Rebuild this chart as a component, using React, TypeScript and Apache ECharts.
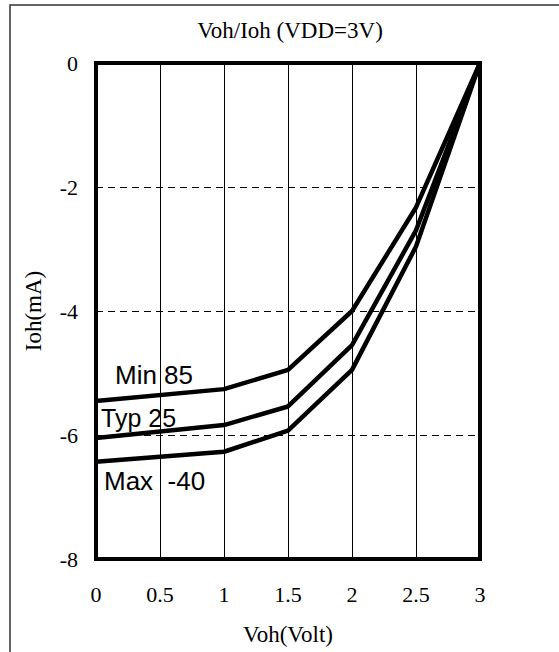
import React, { useEffect, useRef } from "react";
import * as echarts from "echarts";

const voltages = [0, 1, 1.5, 2, 2.5, 3];
const minCurve = [-5.45, -5.26, -4.95, -4.0, -2.33, 0];
const typCurve = [-6.05, -5.84, -5.54, -4.55, -2.7, 0];
const maxCurve = [-6.43, -6.27, -5.93, -4.95, -2.96, 0];
const curveLabels = ["Min 85", "Typ 25", "Max  -40"];
const titleText = "Voh/Ioh (VDD=3V)";
const xName = "Voh(Volt)";
const yName = "Ioh(mA)";

const serif = "'Liberation Serif', 'Times New Roman', serif";
const sans = "'Liberation Sans', Arial, sans-serif";

export default function App() {
  const ref = useRef<HTMLDivElement>(null);
  useEffect(() => {
    if (!ref.current) return;
    const chart = echarts.init(ref.current, undefined, { renderer: "svg" });
    const mk = (vals: number[]) => voltages.map((v, i) => [v, vals[i]]);
    chart.setOption({
      animation: false,
      backgroundColor: "#fff",
      title: {
        text: titleText,
        left: 285,
        top: 14,
        textAlign: "center",
        textStyle: { fontFamily: serif, fontSize: 23, fontWeight: "normal", color: "#000" },
      },
      grid: {
        left: 96,
        right: 79,
        top: 63,
        bottom: 93,
        show: true,
        borderColor: "#000",
        borderWidth: 4,
        backgroundColor: "transparent",
      },
      xAxis: {
        type: "value",
        min: 0,
        max: 3,
        interval: 0.5,
        name: xName,
        nameLocation: "middle",
        nameGap: 64,
        nameTextStyle: { fontFamily: serif, fontSize: 23, color: "#000" },
        axisLine: { show: false },
        axisTick: { show: false },
        axisLabel: { fontFamily: serif, fontSize: 22, color: "#000", margin: 24 },
        splitLine: { show: true, lineStyle: { color: "#000", width: 1, type: "solid" } },
      },
      yAxis: {
        type: "value",
        min: -8,
        max: 0,
        interval: 2,
        name: yName,
        nameLocation: "middle",
        nameGap: 51,
        nameRotate: 90,
        nameTextStyle: { fontFamily: serif, fontSize: 23, color: "#000" },
        axisLine: { show: false },
        axisTick: { show: false },
        axisLabel: { fontFamily: serif, fontSize: 22, color: "#000", margin: 18 },
        splitLine: { show: true, lineStyle: { color: "#000", width: 1, type: [7, 5] } },
      },
      series: [minCurve, typCurve, maxCurve].map((c, i) => ({
        type: "line",
        name: curveLabels[i],
        data: mk(c),
        symbol: "none",
        lineStyle: { color: "#000", width: 4.5, join: "round" },
        z: 5,
      })),
      graphic: [
        {
          type: "rect",
          shape: { x: 10, y: 5, width: 620, height: 720 },
          style: { fill: "none", stroke: "#333", lineWidth: 1.5 },
          silent: true,
        },
        {
          type: "text",
          x: 115,
          y: 375,
          style: { text: curveLabels[0], font: `26px ${sans}`, fill: "#000", textVerticalAlign: "middle" },
          z: 10,
        },
        {
          type: "text",
          x: 101,
          y: 418,
          style: { text: curveLabels[1], font: `25px ${sans}`, fill: "#000", textVerticalAlign: "middle" },
          z: 10,
        },
        {
          type: "text",
          x: 104,
          y: 481,
          style: { text: curveLabels[2], font: `26px ${sans}`, fill: "#000", textVerticalAlign: "middle" },
          z: 10,
        },
      ],
    });
    return () => chart.dispose();
  }, []);
  return (
    <div
      ref={ref}
      style={{ position: "absolute", left: 0, top: 0, width: 559, height: 652 }}
    />
  );
}
